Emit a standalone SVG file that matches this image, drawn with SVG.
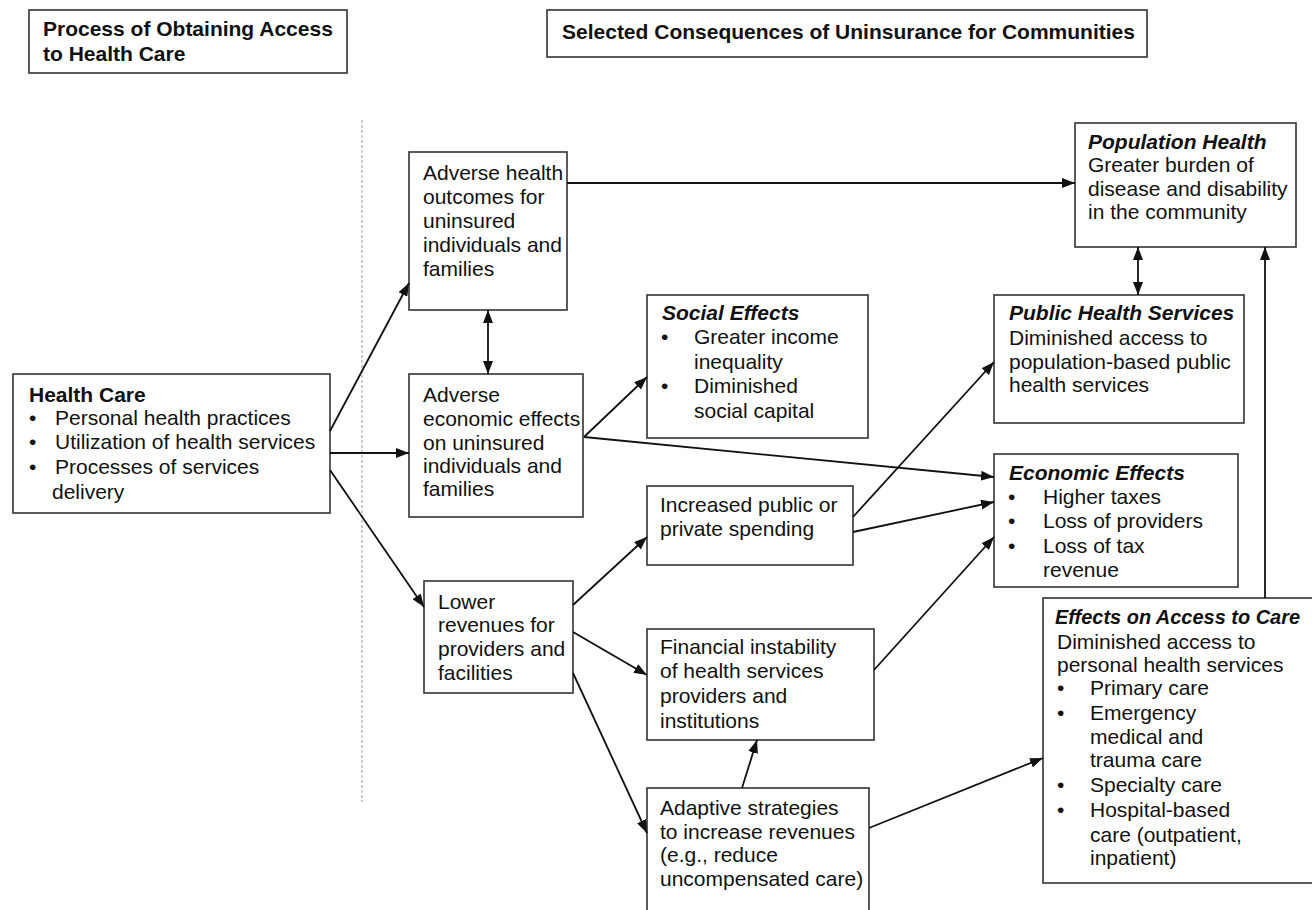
<svg xmlns="http://www.w3.org/2000/svg" width="1312" height="910" viewBox="0 0 1312 910">
<style>
text{font-family:"Liberation Sans",Arial,sans-serif;font-size:21px;fill:#111}
.b{font-weight:bold}
.bi{font-weight:bold;font-style:italic}
rect{fill:#fff;stroke:#333;stroke-width:1.6}
.c line,.c path{stroke:#111;stroke-width:1.8;fill:none}
</style>
<defs>
<marker id="ah" viewBox="0 0 13 10" refX="13" refY="5" markerWidth="13" markerHeight="10" markerUnits="userSpaceOnUse" orient="auto-start-reverse"><path d="M0,0 L13,5 L0,10 z" fill="#111"/></marker>
</defs>
<rect x="0" y="0" width="1312" height="910" style="fill:#fff;stroke:none"/>

<g id="hdr1"><rect x="29" y="10" width="318" height="63"/>
<text class="b" x="43" y="36">Process of Obtaining Access</text>
<text class="b" x="43" y="61">to Health Care</text></g>

<g id="hdr2"><rect x="547" y="10" width="600" height="47"/>
<text class="b" x="562" y="39">Selected Consequences of Uninsurance for Communities</text></g>

<line x1="362" y1="120" x2="362" y2="802" stroke="#999" stroke-width="1" stroke-dasharray="3,2"/>

<g id="healthcare"><rect x="13" y="374" width="317" height="139"/>
<text class="b" x="29" y="402">Health Care</text>
<text x="29" y="425">•</text><text x="55" y="425">Personal health practices</text>
<text x="29" y="449">•</text><text x="55" y="449">Utilization of health services</text>
<text x="29" y="474">•</text><text x="55" y="474">Processes of services</text>
<text x="52" y="499">delivery</text></g>

<g id="advhealth"><rect x="409" y="152" width="158" height="158"/>
<text x="423" y="180">Adverse health</text>
<text x="423" y="204">outcomes for</text>
<text x="423" y="228">uninsured</text>
<text x="423" y="252">individuals and</text>
<text x="423" y="276">families</text></g>

<g id="advecon"><rect x="409" y="374" width="174" height="143"/>
<text x="423" y="402">Adverse</text>
<text x="423" y="426">economic effects</text>
<text x="423" y="450">on uninsured</text>
<text x="423" y="473">individuals and</text>
<text x="423" y="496">families</text></g>

<g id="social"><rect x="647" y="295" width="221" height="143"/>
<text class="bi" x="662" y="320">Social Effects</text>
<text x="661" y="344">•</text><text x="694" y="344">Greater income</text>
<text x="694" y="369">inequality</text>
<text x="661" y="393">•</text><text x="694" y="393">Diminished</text>
<text x="694" y="418">social capital</text></g>

<g id="increased"><rect x="647" y="486" width="206" height="79"/>
<text x="660" y="512">Increased public or</text>
<text x="660" y="536">private spending</text></g>

<g id="lowerrev"><rect x="424" y="581" width="149" height="112"/>
<text x="438" y="609">Lower</text>
<text x="438" y="632">revenues for</text>
<text x="438" y="656">providers and</text>
<text x="438" y="680">facilities</text></g>

<g id="financial"><rect x="647" y="629" width="227" height="111"/>
<text x="660" y="654">Financial instability</text>
<text x="660" y="678">of health services</text>
<text x="660" y="703">providers and</text>
<text x="660" y="728">institutions</text></g>

<g id="adaptive"><rect x="647" y="788" width="222" height="140"/>
<text x="660" y="815">Adaptive strategies</text>
<text x="660" y="839">to increase revenues</text>
<text x="660" y="862">(e.g., reduce</text>
<text x="660" y="886">uncompensated care)</text></g>

<g id="pophealth"><rect x="1075" y="123" width="221" height="124"/>
<text class="bi" x="1088" y="149">Population Health</text>
<text x="1088" y="172">Greater burden of</text>
<text x="1088" y="196">disease and disability</text>
<text x="1088" y="219">in the community</text></g>

<g id="publichealth"><rect x="994" y="295" width="250" height="128"/>
<text class="bi" x="1009" y="320">Public Health Services</text>
<text x="1009" y="345">Diminished access to</text>
<text x="1009" y="369">population-based public</text>
<text x="1009" y="392">health services</text></g>

<g id="econeffects"><rect x="994" y="454" width="244" height="133"/>
<text class="bi" x="1009" y="480">Economic Effects</text>
<text x="1008" y="504">•</text><text x="1043" y="504">Higher taxes</text>
<text x="1008" y="528">•</text><text x="1043" y="528">Loss of providers</text>
<text x="1008" y="553">•</text><text x="1043" y="553">Loss of tax</text>
<text x="1043" y="577">revenue</text></g>

<g id="access"><rect x="1043" y="598" width="290" height="285"/>
<text class="bi" x="1055" y="624" textLength="245" lengthAdjust="spacingAndGlyphs">Effects on Access to Care</text>
<text x="1057" y="649">Diminished access to</text>
<text x="1057" y="672">personal health services</text>
<text x="1057" y="695">•</text><text x="1090" y="695">Primary care</text>
<text x="1057" y="720">•</text><text x="1090" y="720">Emergency</text>
<text x="1090" y="744">medical and</text>
<text x="1090" y="767">trauma care</text>
<text x="1057" y="792">•</text><text x="1090" y="792">Specialty care</text>
<text x="1057" y="817">•</text><text x="1090" y="817">Hospital-based</text>
<text x="1090" y="842">care (outpatient,</text>
<text x="1090" y="865">inpatient)</text></g>

<g id="connectors" class="c">
<line x1="330" y1="431" x2="409" y2="283" marker-end="url(#ah)"/>
<line x1="330" y1="453" x2="409" y2="453" marker-end="url(#ah)"/>
<line x1="330" y1="470" x2="424" y2="607" marker-end="url(#ah)"/>
<line x1="567" y1="183" x2="1075" y2="183" marker-end="url(#ah)"/>
<line x1="488" y1="310" x2="488" y2="374" marker-start="url(#ah)" marker-end="url(#ah)"/>
<line x1="584" y1="437" x2="647" y2="377" marker-end="url(#ah)"/>
<line x1="584" y1="437" x2="994" y2="477" marker-end="url(#ah)"/>
<line x1="573" y1="605" x2="647" y2="537" marker-end="url(#ah)"/>
<line x1="573" y1="632" x2="647" y2="675" marker-end="url(#ah)"/>
<line x1="573" y1="673" x2="647" y2="833" marker-end="url(#ah)"/>
<line x1="742" y1="788" x2="757" y2="740" marker-end="url(#ah)"/>
<line x1="853" y1="517" x2="994" y2="362" marker-end="url(#ah)"/>
<line x1="853" y1="532" x2="994" y2="502" marker-end="url(#ah)"/>
<line x1="874" y1="670" x2="994" y2="537" marker-end="url(#ah)"/>
<line x1="869" y1="828" x2="1043" y2="758" marker-end="url(#ah)"/>
<line x1="1265" y1="598" x2="1265" y2="247" marker-end="url(#ah)"/>
<line x1="1138" y1="247" x2="1138" y2="295" marker-start="url(#ah)" marker-end="url(#ah)"/>
</g>
</svg>
